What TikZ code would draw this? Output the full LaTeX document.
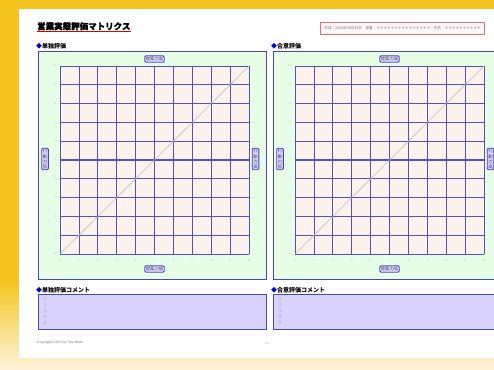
\documentclass[tikz,border=0pt]{standalone}
\usepackage{fontspec}
\newfontfamily\jp{Noto Sans CJK JP}
\newfontfamily\jpt[BoldFeatures={FakeBold=1.2}]{Noto Sans CJK JP}
\setmainfont{Liberation Serif}
\definecolor{yel}{HTML}{F4C51F}
\definecolor{cream}{HTML}{FDF3D8}
\definecolor{pblue}{HTML}{4444C4}
\definecolor{gblue}{HTML}{5050CC}
\definecolor{pgreen}{HTML}{E6FDE6}
\definecolor{gpink}{HTML}{FDF2EC}
\definecolor{lav}{HTML}{DAD2FF}
\definecolor{hred}{HTML}{E07070}
\tikzset{
  panel/.style={draw=pblue,line width=1pt,fill=pgreen},
  lbl/.style={draw=pblue,line width=0.8pt,fill=lav,rounded corners=1.2pt,inner sep=1.2pt,font=\jp\fontsize{4.3}{5.1}\selectfont,text=black!70},
  vlbl/.style={lbl,align=center},
  tick/.style={font=\fontsize{2.6}{3}\selectfont,text=black!35,inner sep=0pt},
  head/.style={anchor=west,inner sep=0pt,font=\jp\bfseries\fontsize{6}{7}\selectfont},
  cbox/.style={draw=pblue,line width=1pt,fill=lav},
  ctext/.style={anchor=north west,align=left,inner sep=0pt,font=\jp\fontsize{4}{6}\selectfont,text=black!40}
}
\begin{document}
\begin{tikzpicture}[x=1pt,y=-1pt]
\useasboundingbox (0,0) rectangle (494,369);
\clip (0,0) rectangle (494,369);
\fill[yel] (0,0) rectangle (494,369);
\shade[top color=yel,bottom color=cream] (0,280) rectangle (494,369);
\fill[white] (19,9) rectangle (500,358);
% title
\node[anchor=base west,inner sep=0pt,font=\jpt\bfseries\fontsize{8.5}{9}\selectfont] (title) at (37,29.5) {営業実態評価マトリクス};
\draw[red!85!black,line width=1.3pt] (title.south west)++(0,1.2) -- ++(94,0);
% header
\node[draw=hred,line width=0.8pt,fill=red!3,anchor=west,minimum height=12pt,inner xsep=4pt,font=\jp\fontsize{3.6}{4}\selectfont,text=black!55] (hdr) at (320,28) {作成：2004年08月30日　部署：＊＊＊＊＊＊＊＊＊＊＊＊＊＊＊　氏名：＊＊＊＊＊＊＊＊＊＊};
% panels
\foreach \ox/\ttl/\ctl [count=\k] in {0/単独評価/単独評価コメント,235/合意評価/合意評価コメント}{
  \begin{scope}[xshift=\ox]
  \node[head] (h\k) at (36,46.5) {\textcolor{blue!80!black}{◆}\ttl};
  \draw[panel] (38,51.5) rectangle (266,279);
  \fill[gpink] (60,66) rectangle (249,254);
  \foreach \i in {0,...,10}{
    \pgfmathsetmacro\xx{60+18.9*\i}
    \pgfmathsetmacro\yy{254-18.8*\i}
    \draw[gblue,line width=0.8pt] (\xx,66) -- (\xx,254);
    \draw[gblue,line width=0.8pt] (60,\yy) -- (249,\yy);
    \node[tick] at (\xx,261) {\i};
    \node[tick,anchor=east] at (56,\yy) {\i};
  }
  \draw[gblue,line width=1.2pt] (154.5,66) -- (154.5,254);
  \draw[gblue,line width=1.2pt] (60,160) -- (249,160);
  \draw[black!25,line width=0.6pt] (60,254) -- (249,66);
  \node[lbl] (top\k) at (154.5,59) {提案力高};
  \node[lbl] (bot\k) at (154.5,269) {提案力低};
  \node[vlbl] (lft\k) at (45,159) {行\\動\\力\\低};
  \node[vlbl] (rgt\k) at (255.5,159) {行\\動\\力\\高};
  \node[head] (c\k) at (36,290) {\textcolor{blue!80!black}{◆}\ctl};
  \draw[cbox] (38,294.5) rectangle (266,329);
  \node[ctext] (ct\k) at (43,296.5) {①\\②\\③\\④\\⑤};
  \end{scope}
}
\node[anchor=west,inner sep=0pt,font=\fontsize{3.6}{4}\selectfont,text=black!60] (copy) at (37,343) {Copyright ©2011 by Yuu Wada};
\node[inner sep=0pt,font=\fontsize{3.6}{4}\selectfont,text=black!60] (pg) at (267,343) {- 1 -};
\end{tikzpicture}
\end{document}
